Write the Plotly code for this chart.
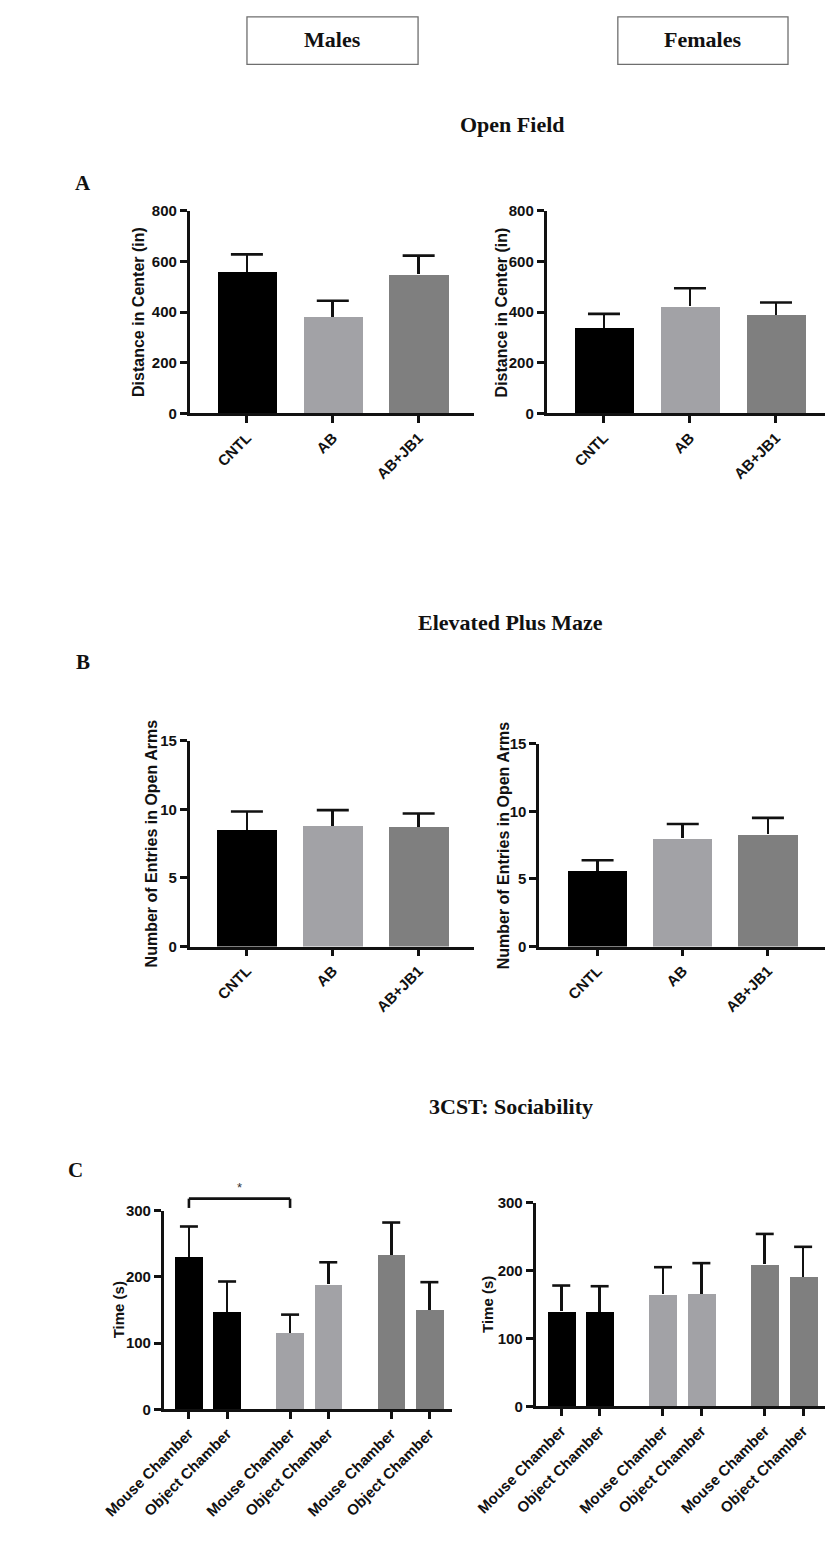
import plotly.graph_objects as go

W, H = 825, 1541
SANS = "Liberation Sans, Arial, Helvetica, sans-serif"
SERIF = "Liberation Serif, Times New Roman, serif"
INK = "#111111"

# ---- data -------------------------------------------------------------
GROUPS = ["CNTL", "AB", "AB+JB1"]
GROUP_COLORS = ["#000000", "#a2a2a6", "#7f7f7f"]

# Open field: distance travelled in the centre (in), mean and SEM
of_male_mean = [558, 380, 549]
of_male_sem = [70, 65, 74]
of_female_mean = [338, 423, 389]
of_female_sem = [55, 71, 49]

# Elevated plus maze: number of entries into the open arms
epm_male_mean = [8.5, 8.8, 8.7]
epm_male_sem = [1.35, 1.15, 1.0]
epm_female_mean = [5.6, 8.0, 8.3]
epm_female_sem = [0.78, 1.07, 1.22]

# Three-chamber sociability test: time (s) per chamber, per group
CHAMBERS = ["Mouse Chamber", "Object Chamber"]
soc_male_mean = [230, 147, 116, 189, 233, 150]
soc_male_sem = [46, 46, 27, 33, 49, 42]
soc_female_mean = [140, 139, 165, 166, 209, 191]
soc_female_sem = [38, 38, 40, 45, 45, 44]

# ---- layout helpers ------------------------------------------------------
GROUP_STEP = 2.65  # spacing between treatment groups in the 3CST panels
LW = 2.6           # axis / error-bar stroke width


def fx(p):
    return p / W


def fy(p):
    return 1 - p / H


fig = go.Figure()

# panel boxes in pixels: left, right, top, bottom; cap = error cap length (px)
panels = [
    dict(box=(138, 446, 204, 409), xr=[-0.667, 2.65], yr=[0, 800], dt=200,
         title="Distance in Center (in)", tx=82, cap=32, bw=0.69),
    dict(box=(524, 825, 204, 409), xr=[-0.667, 2.57], yr=[0, 800], dt=200,
         title="Distance in Center (in)", tx=475, cap=32, bw=0.69),
    dict(box=(138, 446, 740, 948), xr=[-0.667, 2.65], yr=[0, 15], dt=5,
         title="Number of Entries in Open Arms", tx=97, cap=32, bw=0.70),
    dict(box=(516, 825, 743, 948), xr=[-0.685, 2.67], yr=[0, 15], dt=5,
         title="Number of Entries in Open Arms", tx=477, cap=32, bw=0.70),
    dict(box=(110, 422, 1215, 1416), xr=[-0.66, 6.9], yr=[0, 300], dt=100,
         title="Time (s)", tx=62, cap=18, bw=0.73),
    dict(box=(512, 825, 1207, 1413), xr=[-0.67, 6.87], yr=[0, 300], dt=100,
         title="Time (s)", tx=460, cap=18, bw=0.73),
]

soc_x = [g * GROUP_STEP + c for g in range(len(GROUPS)) for c in range(len(CHAMBERS))]
soc_labels = [ch for _ in GROUPS for ch in CHAMBERS]
soc_colors = [GROUP_COLORS[g] for g in range(len(GROUPS)) for _ in CHAMBERS]

series = [
    (GROUPS, of_male_mean, of_male_sem, GROUP_COLORS),
    (GROUPS, of_female_mean, of_female_sem, GROUP_COLORS),
    (GROUPS, epm_male_mean, epm_male_sem, GROUP_COLORS),
    (GROUPS, epm_female_mean, epm_female_sem, GROUP_COLORS),
    (soc_x, soc_male_mean, soc_male_sem, soc_colors),
    (soc_x, soc_female_mean, soc_female_sem, soc_colors),
]

annotations = []
shapes = []
tick_font = dict(family=SANS, size=15, color=INK, weight="bold")

for i, (p, (xs, ys, es, cols)) in enumerate(zip(panels, series), start=1):
    ax = "" if i == 1 else str(i)
    # bars with a one-sided (upper) SEM stem
    fig.add_trace(go.Bar(
        x=xs, y=ys, width=p["bw"],
        marker=dict(color=cols, line=dict(width=0)),
        error_y=dict(type="data", symmetric=False, array=es,
                     arrayminus=[0] * len(es), color=INK,
                     thickness=LW, width=0),
        xaxis="x" + ax, yaxis="y" + ax, showlegend=False, hoverinfo="skip",
    ))
    # cross-bar at the top of each SEM stem only
    fig.add_trace(go.Scatter(
        x=xs, y=[m + e for m, e in zip(ys, es)], mode="markers",
        marker=dict(symbol="line-ew", size=p["cap"] / 1.4,
                    line=dict(color=INK, width=LW)),
        xaxis="x" + ax, yaxis="y" + ax, showlegend=False, hoverinfo="skip",
        cliponaxis=False,
    ))
    l, r, t, b = p["box"]
    xa = dict(domain=[fx(l), fx(r)], range=p["xr"], anchor="y" + ax,
              showline=True, linewidth=LW, linecolor=INK,
              ticks="outside", ticklen=7, tickwidth=LW, tickcolor=INK,
              tickangle=-45, tickfont=tick_font, showgrid=False,
              zeroline=False, fixedrange=True)
    if i >= 5:
        xa.update(tickmode="array", tickvals=soc_x, ticktext=soc_labels)
    else:
        xa.update(type="category")
    ya = dict(domain=[fy(b), fy(t)], range=p["yr"], anchor="x" + ax,
              showline=True, linewidth=LW, linecolor=INK,
              ticks="outside", ticklen=7, tickwidth=LW, tickcolor=INK,
              tick0=0, dtick=p["dt"], tickfont=tick_font, showgrid=False,
              zeroline=False, fixedrange=True)
    fig.layout["xaxis" + ax] = xa
    fig.layout["yaxis" + ax] = ya

    annotations.append(dict(
        text=p["title"], textangle=-90, xref="paper", x=fx(p["tx"]),
        yref="y" + ax + " domain", y=0.5, showarrow=False,
        xanchor="center", yanchor="middle",
        font=dict(family=SANS, size=16 if i < 5 else 15, color=INK, weight="bold"),
    ))

# significance bracket between the CNTL and AB mouse-chamber bars (males)
c_panel = panels[4]
x0r, x1r = c_panel["xr"]
y0r, y1r = c_panel["yr"]


def dom_x(v):
    return (v - x0r) / (x1r - x0r)


def dom_y(v):
    return (v - y0r) / (y1r - y0r)


bx0, bx1 = soc_x[0], soc_x[2]
b_top, b_tip = 318, 304
for seg in [(bx0, b_tip, bx0, b_top), (bx0, b_top, bx1, b_top), (bx1, b_top, bx1, b_tip)]:
    shapes.append(dict(type="line", xref="x5 domain", yref="y5 domain",
                       x0=dom_x(seg[0]), y0=dom_y(seg[1]),
                       x1=dom_x(seg[2]), y1=dom_y(seg[3]),
                       line=dict(color=INK, width=LW)))
annotations.append(dict(text="*", xref="x5 domain", yref="y5 domain",
                        x=dom_x((bx0 + bx1) / 2), y=dom_y(321),
                        showarrow=False, xanchor="center", yanchor="bottom",
                        font=dict(family=SANS, size=13, color="#333333")))

# sex header boxes
for label, (l, r) in [("Males", (200, 385)), ("Females", (601, 785))]:
    shapes.append(dict(type="rect", xref="paper", yref="paper",
                       x0=fx(l), x1=fx(r), y0=fy(56), y1=fy(8),
                       line=dict(color="#6e6e6e", width=1.3), fillcolor="white"))
    annotations.append(dict(text=label, xref="paper", yref="paper",
                            x=fx((l + r) / 2), y=fy(31), showarrow=False,
                            xanchor="center", yanchor="middle",
                            font=dict(family=SERIF, size=22, color=INK, weight="bold")))

# section headings and panel letters
for text, cx, cy in [("Open Field", 487, 117), ("Elevated Plus Maze", 485, 620),
                     ("3CST: Sociability", 486, 1110)]:
    annotations.append(dict(text=text, xref="paper", yref="paper", x=fx(cx), y=fy(cy),
                            showarrow=False, xanchor="center", yanchor="middle",
                            font=dict(family=SERIF, size=22, color=INK, weight="bold")))
for text, cx, cy in [("A", 23, 176), ("B", 23, 660), ("C", 15, 1174)]:
    annotations.append(dict(text=text, xref="paper", yref="paper", x=fx(cx), y=fy(cy),
                            showarrow=False, xanchor="center", yanchor="middle",
                            font=dict(family=SERIF, size=21, color=INK, weight="bold")))

fig.update_layout(
    width=W, height=H, margin=dict(l=0, r=0, t=0, b=0),
    paper_bgcolor="white", plot_bgcolor="white",
    annotations=annotations, shapes=shapes, bargap=0, showlegend=False,
)

fig.write_html("out.html", include_plotlyjs=True, config=dict(displayModeBar=False))
